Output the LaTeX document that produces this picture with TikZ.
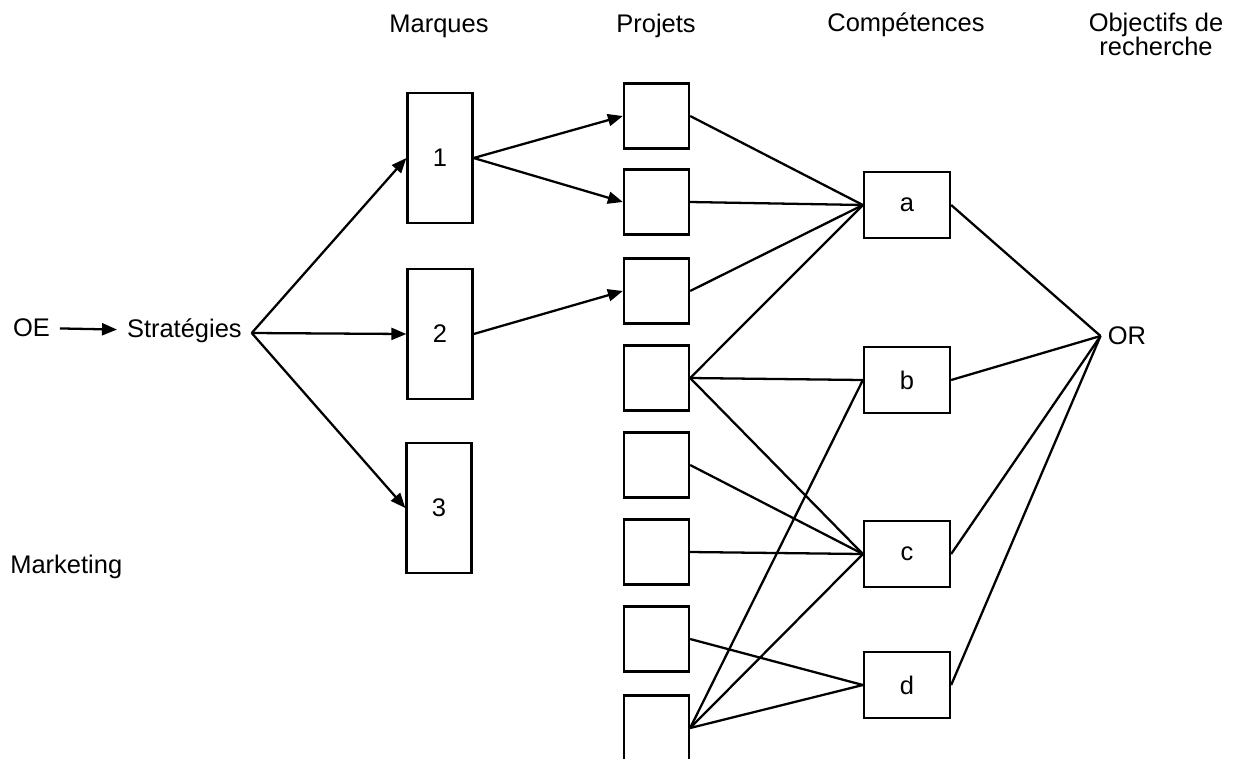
\documentclass[tikz,border=0pt]{standalone}
\usepackage{fontspec}
\setmainfont{Liberation Sans}
\usetikzlibrary{arrows.meta, positioning}

\begin{document}
\begin{tikzpicture}[x=0.02cm, y=-0.02cm,
    word/.style={font=\fontsize{14.5}{13.6}\selectfont, inner sep=0pt},
    brand/.style={rectangle, draw, line width=1.3pt, minimum width=13mm, minimum height=26mm, inner sep=0pt, font=\fontsize{14.5}{14}\selectfont},
    project/.style={rectangle, draw, line width=1.3pt, minimum width=13mm, minimum height=13mm, inner sep=0pt},
    skill/.style={rectangle, draw, line width=1.3pt, minimum width=17.2mm, minimum height=13.2mm, inner sep=0pt, font=\fontsize{14.5}{14}\selectfont},
    arrow/.style={-{Triangle[length=3mm, width=2.4mm]}, line width=1.3pt},
    link/.style={line width=1.3pt}
]
\useasboundingbox (0,0) rectangle (1243,758);

% Column headings
\node[word, anchor=base] (hbrand) at (439,32) {Marques};
\node[word, anchor=base] (hproj) at (656,32) {Projets};
\node[word, anchor=base] (hskill) at (906,31) {Compétences};
\node[word, align=center] (hobj) at (1156,34) {Objectifs de\\recherche};

% Left side
\node[word, inner xsep=5.5pt, anchor=mid west] (oe) at (3,332) {OE};
\node[word, inner xsep=5.5pt, anchor=mid west] (strat) at (117,333) {Stratégies};
\node[word, anchor=base west] (mkt) at (10,573) {Marketing};

% Marques
\node[brand] (m1) at (440,158) {1};
\node[brand] (m2) at (440,334) {2};
\node[brand] (m3) at (439,508) {3};

% Projets
\node[project] (p1) at (656.5,116) {};
\node[project] (p2) at (656.5,202) {};
\node[project] (p3) at (656.5,291) {};
\node[project] (p4) at (656.5,378) {};
\node[project] (p5) at (656.5,465) {};
\node[project] (p6) at (656.5,552) {};
\node[project] (p7) at (656.5,639) {};
\node[project] (p8) at (656.5,728) {};

% Competences
\node[skill] (a) at (907,205) {a};
\node[skill] (b) at (907,380) {b};
\node[skill] (c) at (907,554) {c};
\node[skill] (d) at (907,685) {d};

% Objectifs de recherche
\node[word, inner xsep=4pt] (or) at (1127,336) {OR};

% Arrows
\draw[arrow] (oe) -- (strat);
\draw[arrow] (strat.mid east) -- (m1.west);
\draw[arrow] (strat.mid east) -- (m2.west);
\draw[arrow] (strat.mid east) -- (m3.west);
\draw[arrow] (m1.east) -- (p1.west);
\draw[arrow] (m1.east) -- (p2.west);
\draw[arrow] (m2.east) -- (p3.west);

% Links to competences
\draw[link] (p1.east) -- (a.west);
\draw[link] (p2.east) -- (a.west);
\draw[link] (p3.east) -- (a.west);
\draw[link] (p4.east) -- (a.west);
\draw[link] (p4.east) -- (b.west);
\draw[link] (p4.east) -- (c.west);
\draw[link] (p5.east) -- (c.west);
\draw[link] (p6.east) -- (c.west);
\draw[link] (p7.east) -- (d.west);
\draw[link] (p8.east) -- (b.west);
\draw[link] (p8.east) -- (c.west);
\draw[link] (p8.east) -- (d.west);

% Links to OR
\draw[link] (a.east) -- (or.west);
\draw[link] (b.east) -- (or.west);
\draw[link] (c.east) -- (or.west);
\draw[link] (d.east) -- (or.west);

\end{tikzpicture}
\end{document}
